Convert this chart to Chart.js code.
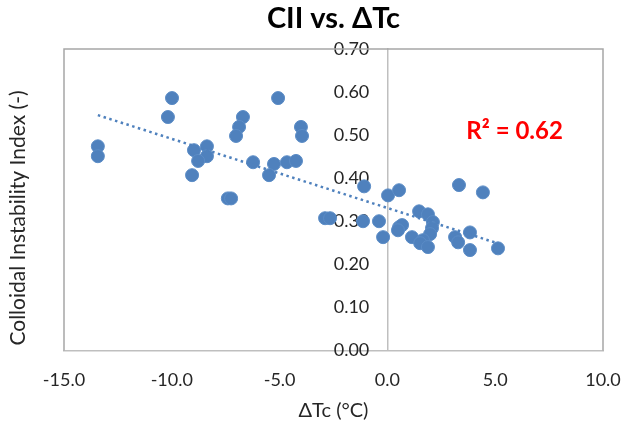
<!DOCTYPE html>
<html>
<head>
<meta charset="utf-8">
<title>CII vs. ΔTc</title>
<script src="https://cdn.jsdelivr.net/npm/chart.js@4/dist/chart.umd.min.js"></script>
<style>
  html, body { margin: 0; padding: 0; background: #fff; }
  #wrap { width: 624px; height: 428px; }
</style>
</head>
<body>
<div id="wrap"><canvas id="cii" width="624" height="428"></canvas></div>
<script>
// data
const dTc = [
  -13.43, -13.43, -9.99, -10.18, -9.06, -8.97, -8.37, -8.37, -8.78,
  -7.40, -7.25, -6.70, -6.88, -7.02, -5.07, -4.01, -3.96,
  -6.23, -5.26, -5.49, -4.66, -4.24, -2.89, -2.66,
  -1.08, -1.13, 0.03, 0.54, -0.39, -0.20, 0.54, 0.68, 0.49, 1.14,
  1.47, 1.88, 2.11, 2.07, 1.98, 1.65, 1.52, 1.88,
  3.32, 4.43, 3.14, 3.28, 3.83, 3.83, 5.13
];
const cii = [
  0.474, 0.451, 0.586, 0.542, 0.407, 0.465, 0.474, 0.451, 0.440,
  0.353, 0.353, 0.542, 0.519, 0.498, 0.586, 0.519, 0.498,
  0.437, 0.433, 0.407, 0.437, 0.440, 0.307, 0.307,
  0.381, 0.300, 0.360, 0.372, 0.300, 0.263, 0.286, 0.291, 0.279, 0.263,
  0.323, 0.316, 0.298, 0.284, 0.270, 0.256, 0.249, 0.240,
  0.384, 0.367, 0.263, 0.251, 0.274, 0.233, 0.237
];
const xTicks = [-15, -10, -5, 0, 5, 10];
const yTicks = [0, 0.1, 0.2, 0.3, 0.4, 0.5, 0.6, 0.7];
const chartTitle = 'CII vs. ΔTc';
const xTitle = 'ΔTc (°C)';
const yTitle = 'Colloidal Instability Index (-)';
const r2Label = 'R² = 0.62';

const points = dTc.map((x, i) => ({ x: x, y: cii[i] }));

// linear trendline (least squares) over the x range of the data
const n = dTc.length;
const mx = dTc.reduce((a, b) => a + b, 0) / n;
const my = cii.reduce((a, b) => a + b, 0) / n;
let sxy = 0, sxx = 0;
for (let i = 0; i < n; i++) {
  sxy += (dTc[i] - mx) * (cii[i] - my);
  sxx += (dTc[i] - mx) * (dTc[i] - mx);
}
const slope = sxy / sxx;
const icpt = my - slope * mx;
const xMin = Math.min(...dTc), xMax = Math.max(...dTc);
const trend = [
  { x: xMin, y: icpt + slope * xMin },
  { x: xMax, y: icpt + slope * xMax }
];

const FONT = 'Lato, "Open Sans", sans-serif';

// the layout padding alone decides where the plot area sits
const noEdgePadding = s => {
  s.paddingLeft = 0; s.paddingRight = 0;
  s.paddingTop = 0; s.paddingBottom = 0;
};

// titles, frame and R² text
const extras = {
  id: 'extras',
  beforeDatasetsDraw(chart) {
    const { ctx, chartArea: a } = chart;
    ctx.save();
    ctx.strokeStyle = '#a6a6a6';
    ctx.lineWidth = 1.5;
    ctx.beginPath();
    ctx.moveTo(a.left, a.bottom);
    ctx.lineTo(a.left, a.top);
    ctx.lineTo(a.right, a.top);
    ctx.lineTo(a.right, a.bottom);
    ctx.stroke();
    ctx.restore();
  },
  afterDraw(chart) {
    const { ctx, chartArea: a, scales } = chart;
    const cx = (a.left + a.right) / 2;
    ctx.save();
    ctx.textAlign = 'center';
    ctx.textBaseline = 'middle';
    ctx.fillStyle = '#000';
    ctx.font = 'bold 29px ' + FONT;
    ctx.fillText(chartTitle, cx, 19);

    ctx.fillStyle = '#262626';
    ctx.font = '20px ' + FONT;
    ctx.fillText(xTitle, cx, 411);

    ctx.font = '21px ' + FONT;
    ctx.translate(18, 218);
    ctx.rotate(-Math.PI / 2);
    ctx.fillText(yTitle, 0, 0);
    ctx.restore();

    ctx.save();
    ctx.fillStyle = '#ff0000';
    ctx.font = 'bold 24px ' + FONT;
    ctx.textAlign = 'center';
    ctx.textBaseline = 'middle';
    ctx.fillText(r2Label, scales.x.getPixelForValue(5.9), scales.y.getPixelForValue(0.51));
    ctx.restore();
  }
};

new Chart(document.getElementById('cii'), {
  type: 'scatter',
  data: {
    datasets: [
      {
        label: 'trend',
        type: 'line',
        data: trend,
        borderColor: '#4f81bd',
        borderWidth: 2.5,
        borderDash: [2.5, 3.5],
        pointRadius: 0,
        fill: false,
        order: 0
      },
      {
        label: 'CII',
        data: points,
        backgroundColor: '#4f81bd',
        borderColor: '#5b8cc6',
        borderWidth: 1,
        pointRadius: 6.5,
        pointHoverRadius: 6.5,
        order: 1
      }
    ]
  },
  options: {
    responsive: false,
    animation: false,
    layout: { padding: { left: 64, right: 21, top: 49, bottom: 26 } },
    plugins: {
      legend: { display: false },
      tooltip: { enabled: false }
    },
    scales: {
      x: {
        type: 'linear',
        min: xTicks[0],
        max: xTicks[xTicks.length - 1],
        afterBuildTicks: s => { s.ticks = xTicks.map(v => ({ value: v })); },
        afterFit: noEdgePadding,
        grid: { display: false },
        border: { color: '#bfbfbf', width: 1.5 },
        ticks: {
          padding: 11,
          color: '#262626',
          font: { family: FONT, size: 18 },
          callback: v => Number(v).toFixed(1)
        }
      },
      y: {
        type: 'linear',
        position: { x: 0 },
        min: yTicks[0],
        max: yTicks[yTicks.length - 1],
        afterBuildTicks: s => { s.ticks = yTicks.map(v => ({ value: v })); },
        afterFit: noEdgePadding,
        grid: { display: false },
        border: { color: '#bfbfbf', width: 1.5 },
        ticks: {
          color: '#262626',
          font: { family: FONT, size: 18 },
          // trailing em space keeps the labels clear of the centred axis line
          callback: v => Number(v).toFixed(2) + '\u2003 '
        }
      }
    }
  },
  plugins: [extras]
});
</script>
</body>
</html>
